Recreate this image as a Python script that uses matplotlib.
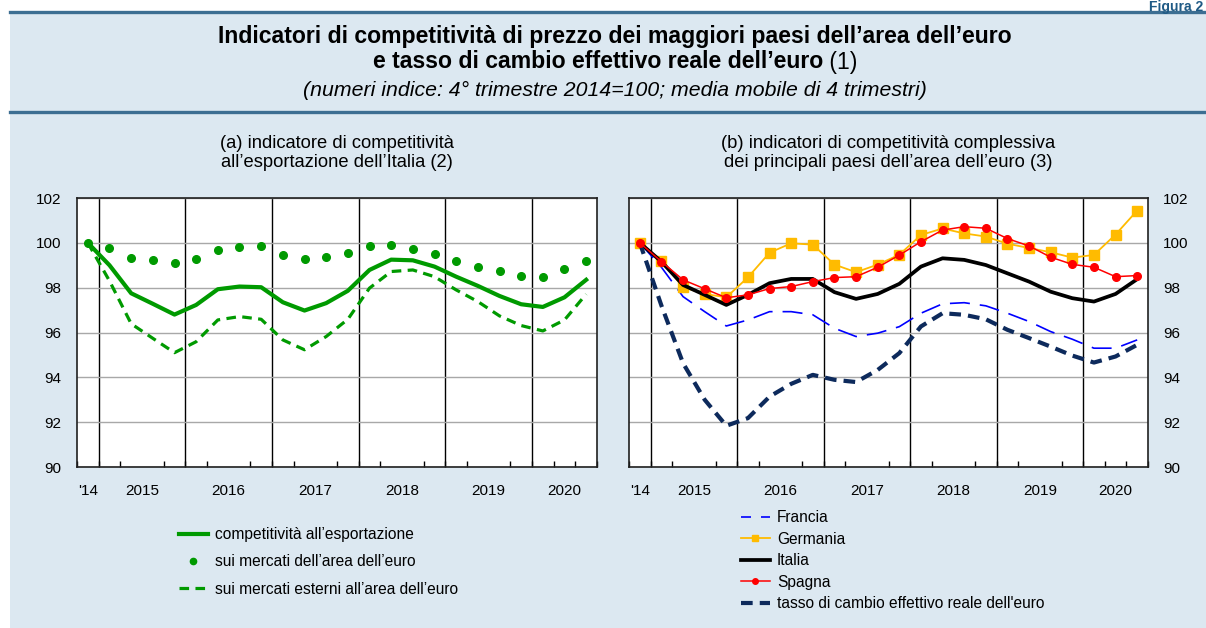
import numpy as np
import pandas as pd
import matplotlib
matplotlib.use('Agg')
import matplotlib.pyplot as plt
from matplotlib.lines import Line2D
from matplotlib.patches import Rectangle

plt.rcParams['font.family'] = ['Liberation Sans', 'DejaVu Sans']

# trimestri dal 4° 2014 al 3° 2020
trimestri = pd.period_range('2014Q4', '2020Q3', freq='Q')

# (a) competitività all'esportazione dell'Italia
export_tot = [100.0, 99.0, 97.75, 97.28, 96.80, 97.23, 97.93, 98.05, 98.02, 97.35, 96.98, 97.31,
              97.86, 98.79, 99.25, 99.22, 98.94, 98.49, 98.08, 97.63, 97.26, 97.14, 97.57, 98.35]
export_area = [100.0, 99.77, 99.34, 99.24, 99.09, 99.30, 99.68, 99.83, 99.86, 99.47, 99.28, 99.35,
               99.55, 99.86, 99.92, 99.74, 99.49, 99.19, 98.93, 98.73, 98.54, 98.48, 98.82, 99.19]
export_extra = [100.0, 98.3, 96.39, 95.74, 95.10, 95.59, 96.56, 96.71, 96.59, 95.67, 95.23, 95.82,
                96.59, 97.98, 98.72, 98.79, 98.49, 97.90, 97.38, 96.74, 96.31, 96.07, 96.56, 97.71]

# (b) competitività complessiva dei paesi dell'area
francia = [100.0, 98.91, 97.60, 96.93, 96.29, 96.56, 96.93, 96.93, 96.79, 96.19, 95.82, 95.97,
           96.26, 96.86, 97.28, 97.33, 97.19, 96.86, 96.49, 96.04, 95.70, 95.30, 95.30, 95.67]
germania = [100.0, 99.19, 98.02, 97.72, 97.57, 98.46, 99.56, 99.98, 99.92, 99.03, 98.69, 99.03,
            99.47, 100.35, 100.64, 100.42, 100.28, 99.96, 99.77, 99.58, 99.34, 99.46, 100.37, 101.44]
italia = [100.0, 99.16, 98.12, 97.68, 97.23, 97.68, 98.20, 98.39, 98.39, 97.80, 97.50, 97.72,
          98.17, 98.94, 99.31, 99.24, 99.01, 98.64, 98.27, 97.82, 97.53, 97.38, 97.72, 98.38]
spagna = [100.0, 99.16, 98.35, 97.95, 97.55, 97.68, 97.96, 98.05, 98.27, 98.45, 98.49, 98.91,
          99.45, 100.05, 100.57, 100.72, 100.65, 100.19, 99.86, 99.36, 99.04, 98.91, 98.49, 98.54]
tcer_euro = [100.0, 97.2, 94.63, 93.00, 91.84, 92.18, 93.14, 93.71, 94.11, 93.89, 93.79, 94.33,
             95.08, 96.27, 96.86, 96.79, 96.59, 96.12, 95.75, 95.37, 94.97, 94.66, 94.93, 95.45]

anni_lab = ["'14", '2015', '2016', '2017', '2018', '2019', '2020']

BG = '#dce8f1'
RULE = '#3c6e92'
VERDE = '#009a00'

# posizione in trimestri: 0 = inizio 2015, punti a metà trimestre
x = np.array([(p.year - 2015) * 4 + p.quarter - 1 for p in trimestri]) + 0.5
anni_pos = [-0.5, 2, 6, 10, 14, 18, 21.5]

fig = plt.figure(figsize=(12.06, 6.28), dpi=100, facecolor='white')
fig.add_artist(Rectangle((10 / 1206, 0), 1, 1 - 12 / 628, transform=fig.transFigure,
                         facecolor=BG, edgecolor='none', zorder=-10))
for yy in (12, 112):
    fig.add_artist(Line2D([10 / 1206, 1], [1 - yy / 628] * 2, transform=fig.transFigure,
                          color=RULE, lw=2.4))

fig.text(0.998, 1.0, 'Figura 2', ha='right', va='top', fontsize=10,
         fontweight='bold', color='#1f5a85')
fig.text(0.51, 1 - 37 / 628, 'Indicatori di competitività di prezzo dei maggiori paesi dell’area dell’euro',
         ha='center', va='center', fontsize=16.6, fontweight='bold')
t_b = fig.text(0.51, 1 - 62 / 628, 'e tasso di cambio effettivo reale dell’euro',
               ha='center', va='center', fontsize=16.6, fontweight='bold')
t_n = fig.text(0.51, 1 - 62 / 628, ' (1)', ha='left', va='center', fontsize=16.6)
fig.text(0.51, 1 - 90 / 628, '(numeri indice: 4° trimestre 2014=100; media mobile di 4 trimestri)',
         ha='center', va='center', fontsize=15.3, style='italic')

# centra la seconda riga del titolo insieme a "(1)"
fig.canvas.draw()
r = fig.canvas.get_renderer()
wb = t_b.get_window_extent(r).width / fig.bbox.width
wn = t_n.get_window_extent(r).width / fig.bbox.width
start = 0.51 - (wb + wn) / 2
t_b.set_ha('left')
t_b.set_x(start)
t_n.set_x(start + wb)

ax1 = fig.add_axes([77 / 1206, 1 - 467 / 628, 520 / 1206, 269 / 628])
ax2 = fig.add_axes([629 / 1206, 1 - 467 / 628, 519 / 1206, 269 / 628])

for ax in (ax1, ax2):
    ax.set_facecolor('white')
    ax.set_xlim(-1, 23)
    ax.set_ylim(90, 102)
    ax.set_yticks(np.arange(90, 103, 2))
    ax.grid(axis='y', color='#a8a8a8', lw=1.0, zorder=0)
    for a in range(0, 21, 4):
        ax.axvline(a, color='black', lw=1.0, zorder=1)
    ax.set_xticks(anni_pos)
    ax.set_xticklabels(anni_lab)
    ax.set_xticks(np.arange(-1, 24), minor=True)
    ax.tick_params(axis='x', which='major', length=0, pad=12, labelsize=11)
    ax.tick_params(axis='x', which='minor', direction='in', length=4, width=1)
    ax.tick_params(axis='y', length=0, pad=11, labelsize=11)
    for s in ax.spines.values():
        s.set_linewidth(1.2)
        s.set_color('#202020')

ax2.yaxis.tick_right()

# pannello (a)
ax1.plot(x, export_tot, color=VERDE, lw=3.0, zorder=3)
ax1.plot(x, export_area, ls='none', marker='o', ms=5.5, color=VERDE, zorder=3)
ax1.plot(x, export_extra, color=VERDE, lw=2.3, dashes=(3, 2), zorder=3)

# pannello (b)
ax2.plot(x, francia, color='#0000ff', lw=1.2, dashes=(12, 6), zorder=3)
ax2.plot(x, germania, color='#ffbb00', lw=1.3, marker='s', ms=6.5, zorder=3)
ax2.plot(x, italia, color='black', lw=2.7, zorder=3)
ax2.plot(x, spagna, color='#ff0000', lw=1.1, marker='o', ms=5.5, zorder=4)
ax2.plot(x, tcer_euro, color='#0d2a5c', lw=3.0, dashes=(2.8, 1.7), zorder=3)

fig.text(337 / 1206, 1 - 153 / 628, '(a) indicatore di competitività\nall’esportazione dell’Italia (2)',
         ha='center', va='center', fontsize=13.2, linespacing=1.1)
fig.text(888 / 1206, 1 - 153 / 628,
         '(b) indicatori di competitività complessiva\ndei principali paesi dell’area dell’euro (3)',
         ha='center', va='center', fontsize=13.2, linespacing=1.1)

h_a = [Line2D([], [], color=VERDE, lw=3.0),
       Line2D([], [], color=VERDE, ls='none', marker='o', ms=4.5),
       Line2D([], [], color=VERDE, lw=2.3, dashes=(3, 2))]
fig.legend(h_a, ['competitività all’esportazione', 'sui mercati dell’area dell’euro',
                 'sui mercati esterni all’area dell’euro'],
           loc='upper left', bbox_to_anchor=(179 / 1206, 1 - 527 / 628), frameon=False,
           fontsize=11.2, handlelength=1.85, handletextpad=0.45, labelspacing=0.8, borderpad=0,
           borderaxespad=0)

h_b = [Line2D([], [], color='#0000ff', lw=1.2, dashes=(6, 6)),
       Line2D([], [], color='#ffbb00', lw=1.3, marker='s', ms=5),
       Line2D([], [], color='black', lw=2.7),
       Line2D([], [], color='#ff0000', lw=1.1, marker='o', ms=4),
       Line2D([], [], color='#0d2a5c', lw=3.0, dashes=(2.8, 1.7))]
fig.legend(h_b, ['Francia', 'Germania', 'Italia', 'Spagna',
                 "tasso di cambio effettivo reale dell'euro"],
           loc='upper left', bbox_to_anchor=(741 / 1206, 1 - 510 / 628), frameon=False,
           fontsize=11.2, handlelength=1.85, handletextpad=0.45, labelspacing=0.42, borderpad=0,
           borderaxespad=0)

fig.savefig('out.png', dpi=100, facecolor='white')
